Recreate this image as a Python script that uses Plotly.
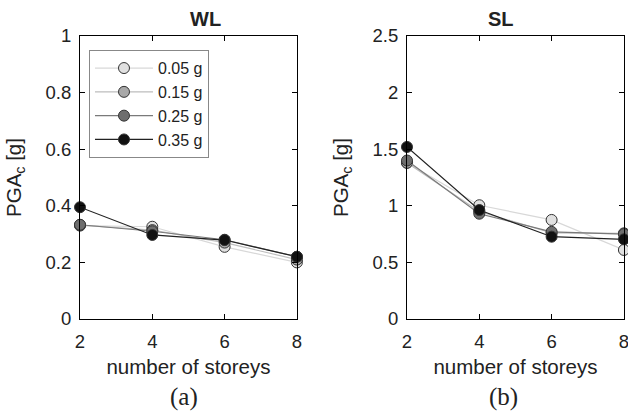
import plotly.graph_objects as go
from plotly.subplots import make_subplots

storeys = [2, 4, 6, 8]
series_names = ["0.05 g", "0.15 g", "0.25 g", "0.35 g"]
wl_005 = [0.33, 0.326, 0.255, 0.20]
wl_015 = [0.332, 0.314, 0.27, 0.21]
wl_025 = [0.333, 0.31, 0.28, 0.22]
wl_035 = [0.395, 0.297, 0.279, 0.22]
sl_005 = [1.38, 1.005, 0.875, 0.61]
sl_015 = [1.38, 0.95, 0.76, 0.757]
sl_025 = [1.40, 0.93, 0.77, 0.75]
sl_035 = [1.52, 0.963, 0.727, 0.704]

fills = ["#e0e0e0", "#a8a8a8", "#6e6e6e", "#111111"]
lines = ["#d8d8d8", "#bdbdbd", "#7a7a7a", "#222222"]

fig = make_subplots(rows=1, cols=2, horizontal_spacing=0.2)
fig.update_layout(xaxis=dict(domain=[0, 0.398]), xaxis2=dict(domain=[0.6, 0.998]))

wl = [wl_005, wl_015, wl_025, wl_035]
sl = [sl_005, sl_015, sl_025, sl_035]
for i, name in enumerate(series_names):
    mk = dict(size=11, color=fills[i], line=dict(color="#333333", width=1))
    fig.add_trace(go.Scatter(x=storeys, y=wl[i], mode="lines+markers", name=name,
                             line=dict(color=lines[i], width=1.2), marker=mk,
                             legendgroup=name, cliponaxis=False), row=1, col=1)
    fig.add_trace(go.Scatter(x=storeys, y=sl[i], mode="lines+markers", name=name,
                             line=dict(color=lines[i], width=1.2), marker=mk,
                             legendgroup=name, showlegend=False, cliponaxis=False), row=1, col=2)

axis_common = dict(showline=True, linecolor="black", linewidth=1, mirror="ticks",
                   ticks="inside", ticklen=5, tickcolor="black", showgrid=False,
                   zeroline=False, automargin=False, ticklabeloverflow="allow",
                   tickfont=dict(size=18.5, color="#222222"))
fig.update_xaxes(**axis_common, range=[2, 8], tickvals=storeys, ticklabelstandoff=6,
                 title=dict(text="number of storeys", font=dict(size=20.5, color="#222222"), standoff=8))
fig.update_yaxes(**axis_common, ticklabelstandoff=4)
ytitle = dict(text="PGA<sub>c</sub> [g]", font=dict(size=20.5, color="#222222"), standoff=18)
fig.update_yaxes(range=[0, 1], tickvals=[0, 0.2, 0.4, 0.6, 0.8, 1],
                 ticktext=["0", "0.2", "0.4", "0.6", "0.8", "1"], row=1, col=1, title=ytitle)
fig.update_yaxes(range=[0, 2.5], tickvals=[0, 0.5, 1, 1.5, 2, 2.5],
                 ticktext=["0", "0.5", "1", "1.5", "2", "2.5"], row=1, col=2, title=ytitle)

annotations = [
    dict(text="<b>WL</b>", x=0.199, y=1.0, xref="paper", yref="paper", yanchor="middle",
         yshift=17, showarrow=False, font=dict(size=20, color="#222222")),
    dict(text="<b>SL</b>", x=0.8, y=1.0, xref="paper", yref="paper", yanchor="middle",
         yshift=17, showarrow=False, font=dict(size=20, color="#222222")),
    dict(text="(a)", x=0.161, y=0, xref="paper", yref="paper", yanchor="middle",
         yshift=-78, showarrow=False, font=dict(size=25, color="#222222", family="Liberation Serif")),
    dict(text="(b)", x=0.807, y=0, xref="paper", yref="paper", yanchor="middle",
         yshift=-78, showarrow=False, font=dict(size=25, color="#222222", family="Liberation Serif")),
]
fig.update_layout(
    width=628, height=414,
    margin=dict(l=80, r=3, t=36, b=95, autoexpand=False),
    paper_bgcolor="white", plot_bgcolor="white",
    font=dict(family="Liberation Sans, Arial, sans-serif", color="#222222"),
    annotations=annotations,
    legend=dict(x=0.0165, y=0.95, xanchor="left", yanchor="top", bgcolor="white",
                bordercolor="#888888", borderwidth=1, font=dict(size=16, color="#222222"),
                tracegroupgap=0, itemwidth=58),
)
fig.write_html("out.html", config={"displayModeBar": False},
               post_script="document.body.style.margin='0';document.body.style.overflow='hidden';"
                           "document.documentElement.style.overflow='hidden';")
